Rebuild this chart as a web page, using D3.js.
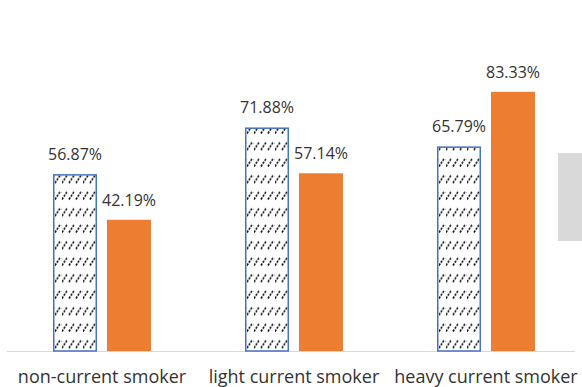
<!DOCTYPE html>
<html>
<head>
<meta charset="utf-8">
<script src="https://cdn.jsdelivr.net/npm/d3@7"></script>
<style>
  html, body { margin: 0; padding: 0; background: #fff; }
  svg { display: block; }
  text { font-family: "Open Sans", "Noto Sans", sans-serif; fill: #333; }
</style>
</head>
<body>
<svg id="chart" width="582" height="387"></svg>
<script>
// Smoking status groups and the two series (percentages)
const categories = ["non-current smoker", "light current smoker", "heavy current smoker"];
const seriesNames = ["series1", "series2"];
const series1 = [56.87, 71.88, 65.79];
const series2 = [42.19, 57.14, 83.33];

const svg = d3.select("#chart");

const x0 = d3.scaleBand().domain(categories).range([6, 582]).paddingInner(0).paddingOuter(0);
const x1 = d3.scaleBand().domain(seriesNames).range([-49, 49]).paddingInner(0.185).paddingOuter(0);
const y = d3.scaleLinear().domain([0, 100]).range([351, 40]);

// Dashed upward-diagonal hatch fill
const defs = svg.append("defs");
const pat = defs.append("pattern")
  .attr("id", "hatch")
  .attr("patternUnits", "userSpaceOnUse")
  .attr("width", 7)
  .attr("height", 16.5)
  .attr("x", 1)
  .attr("y", 3);
pat.append("rect").attr("width", 7).attr("height", 16.5).attr("fill", "#fff");
pat.append("line")
  .attr("x1", 1).attr("y1", 15)
  .attr("x2", 6.2).attr("y2", 7)
  .attr("stroke", "#111")
  .attr("stroke-width", 1.6)
  .attr("stroke-dasharray", "2.2 1.2");

// Category-axis line
svg.append("line")
  .attr("x1", 7).attr("x2", 575)
  .attr("y1", y(0) + 0.5).attr("y2", y(0) + 0.5)
  .attr("stroke", "#d9d9d9")
  .attr("stroke-width", 1.2);

const rows = categories.map((c, i) => ({ cat: c, values: [
  { key: "series1", v: series1[i] },
  { key: "series2", v: series2[i] }
]}));

const groups = svg.selectAll("g.grp").data(rows).join("g")
  .attr("class", "grp")
  .attr("transform", d => `translate(${x0(d.cat) + x0.bandwidth() / 2},0)`);

groups.selectAll("rect.bar").data(d => d.values).join("rect")
  .attr("class", "bar")
  .attr("x", d => x1(d.key) + (d.key === "series1" ? 0.75 : 0))
  .attr("width", d => x1.bandwidth() - (d.key === "series1" ? 1.5 : 0))
  .attr("y", d => y(d.v) + (d.key === "series1" ? 0.75 : 0))
  .attr("height", d => y(0) - y(d.v) - (d.key === "series1" ? 0.75 : 0))
  .attr("fill", d => d.key === "series1" ? "url(#hatch)" : "#ED7D31")
  .attr("stroke", d => d.key === "series1" ? "#4472C4" : "none")
  .attr("stroke-width", 1.5);

groups.selectAll("text.val").data(d => d.values).join("text")
  .attr("class", "val")
  .attr("x", d => x1(d.key) + x1.bandwidth() / 2)
  .attr("y", d => y(d.v) - 14)
  .attr("text-anchor", "middle")
  .attr("font-size", 16)
  .text(d => d.v.toFixed(2) + "%");

// Category labels
svg.selectAll("text.cat").data(categories).join("text")
  .attr("class", "cat")
  .attr("x", d => x0(d) + x0.bandwidth() / 2)
  .attr("y", 383)
  .attr("text-anchor", "middle")
  .attr("font-size", 18)
  .text(d => d);

// Legend panel at the right edge
svg.append("rect")
  .attr("x", 558).attr("y", 153)
  .attr("width", 30).attr("height", 88)
  .attr("fill", "#d9d9d9");
</script>
</body>
</html>
